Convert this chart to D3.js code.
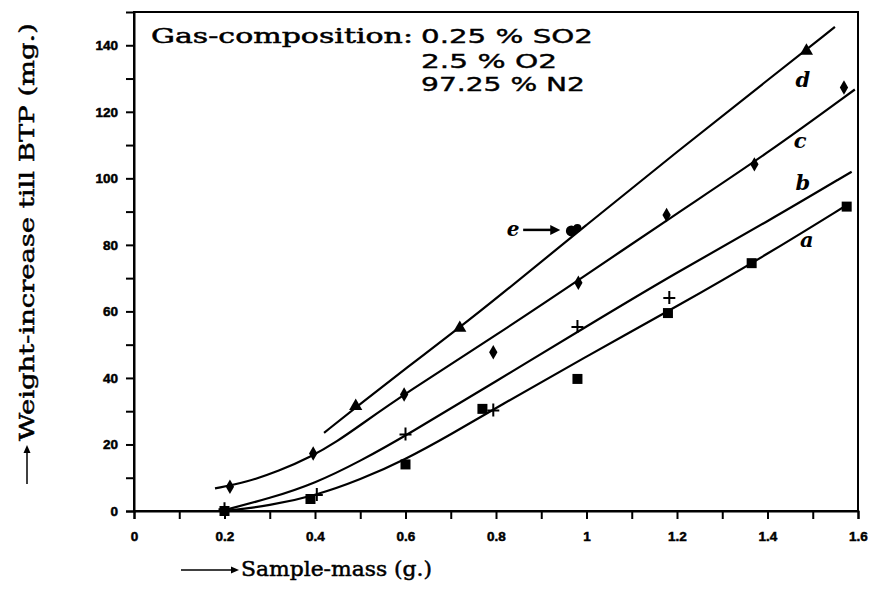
<!DOCTYPE html>
<html><head><meta charset="utf-8">
<script src="https://cdn.jsdelivr.net/npm/d3@7"></script>
<style>
html,body{margin:0;padding:0;background:#fff;}
svg{display:block;}
</style></head>
<body>
<svg id="chart" width="873" height="605"></svg>
<script>
// ---- data ----
const xTickValues = [0, 0.2, 0.4, 0.6, 0.8, 1, 1.2, 1.4, 1.6];
const xTickLabels = ["0", "0.2", "0.4", "0.6", "0.8", "1", "1.2", "1.4", "1.6"];
const xMinorTicks = [0.1, 0.3, 0.5, 0.7, 0.9, 1.1, 1.3, 1.5];
const yTickValues = [0, 20, 40, 60, 80, 100, 120, 140];
const yTickLabels = ["0", "20", "40", "60", "80", "100", "120", "140"];
const yMinorTicks = [10, 30, 50, 70, 90, 110, 130];

// measured points
const seriesA = [[0.2, 0], [0.39, 3.6], [0.6, 14], [0.77, 30.7], [0.98, 39.7], [1.18, 59.5], [1.365, 74.5], [1.575, 91.5]];
const seriesB = [[0.2, 0.5], [0.404, 4.8], [0.6, 23], [0.794, 30.2], [0.98, 55.3], [1.183, 64]];
const seriesC = [[0.212, 7.3], [0.396, 17.3], [0.597, 35], [0.794, 47.7], [0.982, 68.6], [1.177, 89], [1.371, 104.2], [1.569, 127.3]];
const seriesD = [[0.49, 31.5], [0.72, 55], [1.486, 138.3]];
const pointE = [[0.971, 84.5]];

// drawn fit curves
const curveA = [[0.2, 0], [0.3, 1.6], [0.4, 4.6], [0.5, 9.4], [0.6, 15.5], [0.7, 23], [0.8, 31], [1.0, 46.5], [1.2, 61.5], [1.4, 77.2], [1.578, 92.2]];
const curveB = [[0.2, 0.3], [0.3, 3.8], [0.4, 8.3], [0.5, 15], [0.6, 22.6], [0.8, 39], [1.0, 55.5], [1.2, 71.8], [1.4, 87], [1.586, 102]];
const curveC = [[0.179, 6.8], [0.25, 8.7], [0.32, 12], [0.39, 16.2], [0.45, 21], [0.5, 25.8], [0.6, 35.4], [0.8, 52.8], [1.0, 71], [1.2, 89.5], [1.4, 107.5], [1.593, 126.7]];
const curveD = [[0.42, 23.5], [0.5, 32.2], [0.6, 42.8], [0.72, 55.2], [0.8, 63.8], [1.0, 86], [1.2, 108], [1.4, 129.5], [1.549, 145.5]];

const curveLabels = ["a", "b", "c", "d"];
const curveLabelPos = [[1.487, 79.4], [1.478, 96.5], [1.472, 109.1], [1.478, 127.4]];

const gasTitle = "Gas-composition:";
const gasLines = ["0.25 % SO2", "2.5 % O2", "97.25 % N2"];
const xTitle = "Sample-mass (g.)";
const yTitle = "Weight-increase till BTP (mg.)";

// ---- drawing ----
const svg = d3.select("#chart");
const x = d3.scaleLinear().domain([0, 1.6]).range([134, 858]);
const y = d3.scaleLinear().domain([0, 150]).range([511, 12]);

const ink = "#000";

// frame
svg.append("rect").attr("x", x(0)).attr("y", y(150))
  .attr("width", x(1.6) - x(0)).attr("height", y(0) - y(150))
  .attr("fill", "none").attr("stroke", ink).attr("stroke-width", 2);

function styleTickText(sel) {
  sel.attr("font-family", "Liberation Sans, Arial, sans-serif")
    .attr("font-weight", "bold").attr("font-size", 13.5).attr("fill", ink)
    .attr("stroke", ink).attr("stroke-width", 0.5);
}

// x axis
const xAxis = svg.append("g").attr("transform", `translate(0,${y(0)})`)
  .call(d3.axisBottom(x).tickValues(xTickValues).tickSize(8).tickPadding(12)
    .tickFormat((d, i) => xTickLabels[i]));
xAxis.select(".domain").attr("stroke-width", 2);
xAxis.selectAll(".tick line").attr("stroke-width", 2);
styleTickText(xAxis.selectAll("text"));
svg.append("g").attr("transform", `translate(0,${y(0)})`)
  .call(d3.axisBottom(x).tickValues(xMinorTicks).tickSize(8).tickFormat(""))
  .call(g => g.select(".domain").remove())
  .selectAll("line").attr("stroke-width", 2);

// y axis
const yAxis = svg.append("g").attr("transform", `translate(${x(0)},0)`)
  .call(d3.axisLeft(y).tickValues(yTickValues).tickSize(8).tickPadding(8)
    .tickFormat((d, i) => yTickLabels[i]));
yAxis.select(".domain").attr("stroke-width", 2);
yAxis.selectAll(".tick line").attr("stroke-width", 2);
styleTickText(yAxis.selectAll("text"));
svg.append("g").attr("transform", `translate(${x(0)},0)`)
  .call(d3.axisLeft(y).tickValues(yMinorTicks).tickSize(8).tickFormat(""))
  .call(g => g.select(".domain").remove())
  .selectAll("line").attr("stroke-width", 2);

// curves
const line = d3.line().x(d => x(d[0])).y(d => y(d[1])).curve(d3.curveBasis);
[curveA, curveB, curveC, curveD].forEach(c => {
  svg.append("path").attr("d", line(c)).attr("fill", "none")
    .attr("stroke", ink).attr("stroke-width", 2.2);
});

// markers
svg.selectAll(".sqA").data(seriesA).join("path")
  .attr("transform", d => `translate(${x(d[0])},${y(d[1])})`)
  .attr("d", d3.symbol(d3.symbolSquare, 100)).attr("fill", ink);

svg.selectAll(".plB").data(seriesB).join("path")
  .attr("transform", d => `translate(${x(d[0])},${y(d[1])})`)
  .attr("d", "M-6,0H6M0,-7V6").attr("stroke", ink).attr("stroke-width", 2).attr("fill", "none");

svg.selectAll(".dmC").data(seriesC).join("path")
  .attr("transform", d => `translate(${x(d[0])},${y(d[1])})`)
  .attr("d", d3.symbol(d3.symbolDiamond, 60)).attr("fill", ink);

svg.selectAll(".trD").data(seriesD).join("path")
  .attr("transform", d => `translate(${x(d[0])},${y(d[1])})`)
  .attr("d", d3.symbol(d3.symbolTriangle, 75)).attr("fill", ink);

// point e (blob)
const eg = svg.selectAll(".ptE").data(pointE).join("g")
  .attr("transform", d => `translate(${x(d[0])},${y(d[1])})`);
eg.append("circle").attr("cx", -2).attr("cy", 1).attr("r", 5.5).attr("fill", ink);
eg.append("circle").attr("cx", 4).attr("cy", -2).attr("r", 4).attr("fill", ink);

// e label and arrow
svg.append("text").attr("x", x(0.838)).attr("y", y(84.5) + 6)
  .attr("text-anchor", "middle")
  .attr("font-family", "DejaVu Serif, serif").attr("font-weight", "bold").attr("font-style", "italic")
  .attr("font-size", 20).attr("fill", ink).text("e");
svg.append("line").attr("x1", x(0.86)).attr("x2", x(0.925))
  .attr("y1", y(84.5)).attr("y2", y(84.5)).attr("stroke", ink).attr("stroke-width", 2.5);
svg.append("path")
  .attr("d", `M${x(0.942)},${y(84.5)}l-10,-5l0,10z`).attr("fill", ink);

// curve labels
svg.selectAll(".clab").data(curveLabels).join("text")
  .attr("x", (d, i) => x(curveLabelPos[i][0])).attr("y", (d, i) => y(curveLabelPos[i][1]))
  .attr("text-anchor", "middle")
  .attr("font-family", "DejaVu Serif, serif").attr("font-weight", "bold").attr("font-style", "italic")
  .attr("font-size", 21).attr("fill", ink).text(d => d);

// gas composition text
svg.append("text").attr("x", 151).attr("y", 43)
  .attr("font-family", "DejaVu Serif, serif").attr("font-size", 21).attr("fill", ink)
  .attr("stroke", ink).attr("stroke-width", 0.5)
  .attr("textLength", 262).attr("lengthAdjust", "spacingAndGlyphs").text(gasTitle);
const gasY = [43, 68, 91];
const gasLen = [172, 136, 164];
gasLines.forEach((t, i) => {
  svg.append("text").attr("x", 421).attr("y", gasY[i])
    .attr("font-family", "DejaVu Sans, sans-serif").attr("font-size", 20).attr("fill", ink)
    .attr("stroke", ink).attr("stroke-width", 0.4)
    .attr("textLength", gasLen[i]).attr("lengthAdjust", "spacingAndGlyphs").text(t);
});

// x title with arrow
svg.append("line").attr("x1", 181).attr("x2", 232).attr("y1", 570).attr("y2", 570)
  .attr("stroke", ink).attr("stroke-width", 1.5);
svg.append("path").attr("d", "M239,570l-8,-3.5l0,7z").attr("fill", ink);
svg.append("text").attr("x", 241).attr("y", 576)
  .attr("font-family", "DejaVu Serif, serif").attr("font-size", 21).attr("fill", ink)
  .attr("stroke", ink).attr("stroke-width", 0.5)
  .attr("textLength", 191).attr("lengthAdjust", "spacingAndGlyphs").text(xTitle);

// y title with arrow
svg.append("line").attr("x1", 27).attr("x2", 27).attr("y1", 484).attr("y2", 452)
  .attr("stroke", ink).attr("stroke-width", 1.5);
svg.append("path").attr("d", "M27,445l-3.5,8l7,0z").attr("fill", ink);
svg.append("text").attr("transform", "translate(34,441) rotate(-90)")
  .attr("font-family", "DejaVu Serif, serif").attr("font-size", 21).attr("fill", ink)
  .attr("stroke", ink).attr("stroke-width", 0.5)
  .attr("textLength", 418).attr("lengthAdjust", "spacingAndGlyphs").text(yTitle);
</script>
</body></html>
